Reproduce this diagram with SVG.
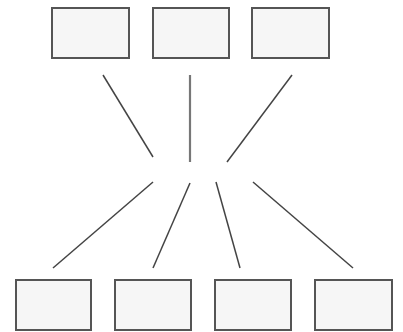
<svg xmlns="http://www.w3.org/2000/svg" width="403" height="332" viewBox="0 0 403 332">
<style>
.box{fill:#f6f6f6;stroke:#555;stroke-width:2}
.ln{stroke:#444;stroke-width:1.5;fill:none}
</style>
<rect width="403" height="332" fill="#fff"/>
<g id="top1"><rect class="box" x="52" y="8" width="77" height="50"/></g>
<g id="top2"><rect class="box" x="153" y="8" width="76" height="50"/></g>
<g id="top3"><rect class="box" x="252" y="8" width="77" height="50"/></g>
<g id="bot1"><rect class="box" x="16" y="280" width="75" height="50"/></g>
<g id="bot2"><rect class="box" x="115" y="280" width="76" height="50"/></g>
<g id="bot3"><rect class="box" x="215" y="280" width="76" height="50"/></g>
<g id="bot4"><rect class="box" x="315" y="280" width="77" height="50"/></g>
<g id="connectors">
<line class="ln" x1="103" y1="75" x2="153" y2="157"/>
<line class="ln" x1="190" y1="75" x2="190" y2="162" style="stroke:#777;stroke-width:2.2"/>
<line class="ln" x1="292" y1="75" x2="227" y2="162"/>
<line class="ln" x1="153" y1="182" x2="53" y2="268"/>
<line class="ln" x1="190" y1="183" x2="153" y2="268"/>
<line class="ln" x1="216" y1="182" x2="240" y2="268"/>
<line class="ln" x1="253" y1="182" x2="353" y2="268"/>
</g>
</svg>
